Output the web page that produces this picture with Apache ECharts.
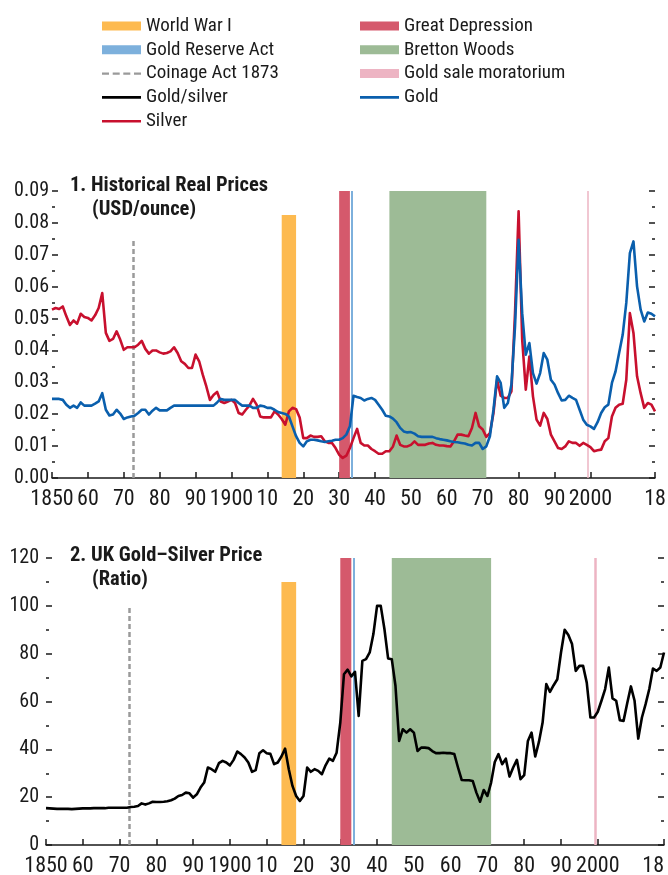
<!DOCTYPE html>
<html>
<head>
<meta charset="utf-8">
<script src="https://cdn.jsdelivr.net/npm/echarts@6/dist/echarts.min.js"></script>
<style>
  html, body { margin: 0; padding: 0; background: #fff; }
  #chart { width: 668px; height: 875px; }
</style>
</head>
<body>
<div id="chart"></div>
<script>
// Annual series, 1850-2018
const startYear = 1850;
const endYear = 2018;
const years = Array.from({ length: endYear - startYear + 1 }, (_, i) => startYear + i);

// Real silver price, USD/ounce
const silver = [
  0.0528, 0.0533, 0.0530, 0.0538, 0.0507, 0.0480, 0.0494, 0.0484, 0.0515, 0.0505,
  0.0502, 0.0494, 0.0510, 0.0533, 0.0580, 0.0455, 0.0430, 0.0436, 0.0460, 0.0434,
  0.0402, 0.0410, 0.0410, 0.0410, 0.0418, 0.0430, 0.0405, 0.0390, 0.0400, 0.0400,
  0.0394, 0.0390, 0.0392, 0.0397, 0.0410, 0.0392, 0.0366, 0.0358, 0.0345, 0.0345,
  0.0387, 0.0366, 0.0324, 0.0287, 0.0245, 0.0260, 0.0270, 0.0240, 0.0235, 0.0240,
  0.0245, 0.0235, 0.0204, 0.0199, 0.0214, 0.0227, 0.0248, 0.0230, 0.0193, 0.0190,
  0.0190, 0.0190, 0.0209, 0.0199, 0.0185, 0.0167, 0.0209, 0.0220, 0.0216, 0.0190,
  0.0125, 0.0125, 0.0133, 0.0129, 0.0129, 0.0131, 0.0115, 0.0110, 0.0110, 0.0094,
  0.0073, 0.0063, 0.0070, 0.0094, 0.0125, 0.0154, 0.0110, 0.0102, 0.0102, 0.0091,
  0.0084, 0.0076, 0.0076, 0.0084, 0.0084, 0.0099, 0.0133, 0.0104, 0.0099, 0.0099,
  0.0104, 0.0115, 0.0104, 0.0104, 0.0104, 0.0108, 0.0110, 0.0104, 0.0102, 0.0102,
  0.0100, 0.0099, 0.0115, 0.0136, 0.0136, 0.0133, 0.0131, 0.0157, 0.0204, 0.0162,
  0.0152, 0.0129, 0.0141, 0.0204, 0.0308, 0.0258, 0.0251, 0.0251, 0.0272, 0.0517,
  0.0836, 0.0434, 0.0277, 0.0381, 0.0256, 0.0183, 0.0164, 0.0204, 0.0185, 0.0136,
  0.0115, 0.0094, 0.0091, 0.0099, 0.0115, 0.0110, 0.0110, 0.0101, 0.0110, 0.0104,
  0.0097, 0.0084, 0.0087, 0.0089, 0.0115, 0.0125, 0.0193, 0.0220, 0.0230, 0.0233,
  0.0308, 0.0517, 0.0455, 0.0319, 0.0266, 0.0220, 0.0235, 0.0230, 0.0209
];

// Real gold price, USD/ounce (scaled)
const gold = [
  0.0248, 0.0248, 0.0248, 0.0245, 0.0230, 0.0220, 0.0227, 0.0220, 0.0237, 0.0227,
  0.0227, 0.0227, 0.0233, 0.0240, 0.0266, 0.0214, 0.0196, 0.0199, 0.0214, 0.0202,
  0.0185, 0.0190, 0.0193, 0.0195, 0.0204, 0.0214, 0.0214, 0.0199, 0.0211, 0.0220,
  0.0212, 0.0212, 0.0212, 0.0220, 0.0227, 0.0227, 0.0227, 0.0227, 0.0227, 0.0227,
  0.0227, 0.0227, 0.0227, 0.0227, 0.0227, 0.0227, 0.0237, 0.0248, 0.0245, 0.0245,
  0.0245, 0.0245, 0.0235, 0.0227, 0.0227, 0.0227, 0.0220, 0.0220, 0.0227, 0.0225,
  0.0220, 0.0220, 0.0214, 0.0207, 0.0204, 0.0201, 0.0193, 0.0162, 0.0131, 0.0110,
  0.0099, 0.0115, 0.0120, 0.0120, 0.0118, 0.0115, 0.0113, 0.0115, 0.0117, 0.0120,
  0.0120, 0.0125, 0.0136, 0.0162, 0.0258, 0.0254, 0.0251, 0.0243, 0.0248, 0.0251,
  0.0245, 0.0230, 0.0214, 0.0195, 0.0193, 0.0186, 0.0175, 0.0157, 0.0146, 0.0143,
  0.0144, 0.0139, 0.0131, 0.0129, 0.0129, 0.0129, 0.0129, 0.0125, 0.0122, 0.0120,
  0.0118, 0.0115, 0.0113, 0.0112, 0.0110, 0.0108, 0.0104, 0.0102, 0.0110, 0.0110,
  0.0091, 0.0099, 0.0131, 0.0214, 0.0319, 0.0298, 0.0220, 0.0235, 0.0293, 0.0475,
  0.0747, 0.0517, 0.0387, 0.0423, 0.0329, 0.0296, 0.0329, 0.0392, 0.0371, 0.0308,
  0.0293, 0.0266, 0.0243, 0.0245, 0.0258, 0.0251, 0.0245, 0.0214, 0.0183, 0.0167,
  0.0162, 0.0154, 0.0175, 0.0204, 0.0222, 0.0230, 0.0298, 0.0334, 0.0392, 0.0449,
  0.0549, 0.0705, 0.0742, 0.0601, 0.0528, 0.0491, 0.0519, 0.0515, 0.0507
];

// UK gold/silver price ratio
const goldSilverRatio = [
  15.4, 15.3, 15.2, 15.1, 15.1, 15.1, 15.1, 15.0, 15.1, 15.2,
  15.3, 15.3, 15.3, 15.4, 15.4, 15.4, 15.4, 15.6, 15.6, 15.6,
  15.6, 15.6, 15.6, 15.9, 16.0, 16.3, 17.4, 16.9, 17.4, 18.1,
  18.0, 18.0, 18.1, 18.3, 18.7, 19.4, 20.5, 20.9, 21.9, 21.6,
  19.8, 21.2, 24.0, 26.1, 32.4, 31.7, 30.6, 34.2, 35.2, 34.5,
  33.3, 35.6, 39.1, 38.0, 36.6, 34.5, 30.6, 31.3, 38.4, 39.6,
  38.4, 38.1, 33.8, 34.5, 37.0, 40.3, 31.7, 24.7, 20.5, 18.4,
  20.5, 32.4, 30.6, 31.7, 31.0, 29.6, 33.3, 36.1, 35.2, 38.6,
  51.2, 71.4, 73.3, 70.5, 72.4, 54.0, 77.0, 77.7, 80.5, 88.2,
  100.0, 100.0, 90.3, 78.0, 77.7, 66.6, 43.5, 48.4, 47.0, 48.4,
  47.0, 39.3, 40.7, 40.7, 40.5, 39.3, 38.4, 38.4, 38.6, 38.4,
  38.4, 38.0, 32.4, 27.2, 27.1, 27.1, 26.8, 21.9, 18.1, 23.0,
  20.5, 26.1, 34.7, 38.0, 33.8, 36.1, 28.6, 32.4, 35.6, 27.5,
  29.2, 43.5, 47.0, 37.0, 43.1, 51.2, 67.3, 64.0, 66.8, 69.3,
  80.5, 90.0, 87.8, 84.0, 72.8, 74.9, 74.9, 67.9, 53.3, 53.3,
  55.7, 60.3, 65.2, 74.2, 61.3, 60.3, 52.2, 51.9, 59.3, 66.3,
  60.3, 44.5, 53.3, 58.9, 65.2, 73.8, 72.8, 74.2, 80.5
];

// Historical episodes (years)
const worldWarI = [1914, 1918];
const greatDepression = [1930, 1933];
const goldReserveAct = 1933.6;
const brettonWoods = [1944, 1971];
const coinageAct = 1872.6;
const goldSaleMoratorium = 1999.3;

// Heights of the capped markers in each panel
const wwiTop = [0.0825, 110];
const coinageTop = [0.075, 100];

// Axis ticks
const xTickValues = [1850, 1860, 1870, 1880, 1890, 1900, 1910, 1920, 1930, 1940, 1950, 1960, 1970, 1980, 1990, 2000, 2018];
const xTickLabels = ['1850', '60', '70', '80', '90', '1900', '10', '20', '30', '40', '50', '60', '70', '80', '90', '2000', '18'];
const priceAxis = { min: 0, max: 0.09, step: 0.01 };
const ratioAxis = { min: 0, max: 120, step: 20 };

const FONT = "'Liberation Sans Narrow', 'Arial Narrow', 'Roboto Condensed', 'DejaVu Sans Condensed', sans-serif";
const INK = '#1a1a1a';
const COLORS = {
  wwi: '#FDBA50',
  depression: '#D5596C',
  reserve: '#7DB0DC',
  bretton: '#9DBB96',
  coinage: '#9a9a9a',
  moratorium: '#EDB4C3',
  ratio: '#000000',
  gold: '#0A5FAD',
  silver: '#C8102E'
};

// Legend glyphs: a solid stroke and a dashed stroke, 39 units wide
const SOLID_ICON = 'path://M0,0H39V2.6H0Z';
const DASHED_ICON = 'path://M0,0H7V2.4H0Z M10.7,0H17.7V2.4H10.7Z M21.3,0H28.3V2.4H21.3Z M32,0H39V2.4H32Z';

const pair = (arr) => arr.map((v, i) => [years[i], v]);

function xAxisFor(gridIndex, alignLast) {
  return {
    type: 'value', gridIndex, min: startYear, max: endYear,
    splitLine: { show: false },
    axisLine: { show: true, lineStyle: { color: INK, width: 1.5 } },
    axisTick: { show: true, inside: true, length: 6, customValues: xTickValues, lineStyle: { color: INK, width: 1.5 } },
    axisLabel: {
      customValues: xTickValues, margin: 10, fontSize: 22, color: INK, fontFamily: FONT,
      alignMaxLabel: alignLast,
      formatter: (v) => xTickLabels[xTickValues.indexOf(v)] ?? ''
    }
  };
}

function yAxisFor(gridIndex, spec, position, labelMargin, decimals) {
  const showLabel = position === 'left';
  return {
    type: 'value', gridIndex, position, min: spec.min, max: spec.max, interval: spec.step,
    splitLine: { show: false },
    axisLine: { show: false },
    axisTick: { show: true, inside: true, length: 6, lineStyle: { color: INK, width: 1.5 } },
    minorTick: { show: true, splitNumber: 2, length: 3, lineStyle: { color: INK, width: 1.5 } },
    minorSplitLine: { show: false },
    axisLabel: {
      show: showLabel, margin: labelMargin, fontSize: 20, color: INK, fontFamily: FONT,
      formatter: (v) => v.toFixed(decimals)
    }
  };
}

// Shaded episodes and vertical markers, repeated for each panel
function episodeSeries(panel) {
  const xi = panel, yi = panel * 2;
  const base = { type: 'line', data: [], xAxisIndex: xi, yAxisIndex: yi, silent: true, z: 1, symbol: 'none' };
  const area = (name, color, range, top) => Object.assign({}, base, {
    name, color, itemStyle: { color }, lineStyle: { color },
    markArea: {
      silent: true, itemStyle: { color, opacity: 1 },
      data: [[
        top === undefined ? { xAxis: range[0] } : { xAxis: range[0], yAxis: 0 },
        top === undefined ? { xAxis: range[1] } : { xAxis: range[1], yAxis: top }
      ]]
    }
  });
  const vline = (name, color, x, width) => Object.assign({}, base, {
    name, color, itemStyle: { color }, lineStyle: { color },
    markLine: {
      silent: true, symbol: ['none', 'none'], label: { show: false },
      lineStyle: { color, width, type: 'solid' },
      data: [{ xAxis: x }]
    }
  });
  const yMin = panel === 0 ? priceAxis.min : ratioAxis.min;
  return [
    area('World War I', COLORS.wwi, worldWarI, wwiTop[panel]),
    area('Great Depression', COLORS.depression, greatDepression),
    vline('Gold Reserve Act', COLORS.reserve, goldReserveAct, 2),
    area('Bretton Woods', COLORS.bretton, brettonWoods),
    vline('Gold sale moratorium', COLORS.moratorium, goldSaleMoratorium, panel === 0 ? 1.5 : 2.5),
    Object.assign({}, base, {
      name: 'Coinage Act 1873', color: COLORS.coinage,
      lineStyle: { color: COLORS.coinage, width: 2.5, type: [5, 3] },
      markLine: {
        silent: true, symbol: ['none', 'none'], label: { show: false },
        lineStyle: { color: COLORS.coinage, width: 2.5, type: [5, 3] },
        data: [[{ coord: [coinageAct, yMin] }, { coord: [coinageAct, coinageTop[panel]] }]]
      }
    })
  ];
}

function dataLine(name, color, values, xi, yi) {
  return {
    name, type: 'line', xAxisIndex: xi, yAxisIndex: yi, data: pair(values),
    showSymbol: false, symbol: 'none', color, z: 5,
    lineStyle: { color, width: 2.6, join: 'round' }
  };
}

const legendItem = (name, color, icon) => ({ name, icon, itemStyle: { color, borderWidth: 0, opacity: 1 } });

const legendBase = {
  orient: 'vertical', padding: 0, itemWidth: 39, itemHeight: 9, itemGap: 3.8,
  selectedMode: false, symbolKeepAspect: true,
  textStyle: { fontSize: 19, color: INK, fontFamily: FONT, lineHeight: 20 }
};

const titleStyle = { fontSize: 20.5, fontWeight: 'bold', color: INK, fontFamily: FONT };
const titles = [
  { text: '1. Historical Real Prices', left: 70, top: 175 },
  { text: '(USD/ounce)', left: 92, top: 199 },
  { text: '2. UK Gold\u2013Silver Price', left: 70, top: 545 },
  { text: '(Ratio)', left: 92, top: 569 }
];

const option = {
  animation: false,
  backgroundColor: '#ffffff',
  textStyle: { fontFamily: FONT },
  title: titles.map(t => Object.assign({ padding: 0, textStyle: titleStyle }, t)),
  legend: [
    Object.assign({}, legendBase, {
      left: 102, top: 16,
      data: [
        legendItem('World War I', COLORS.wwi, 'rect'),
        legendItem('Gold Reserve Act', COLORS.reserve, 'rect'),
        legendItem('Coinage Act 1873', COLORS.coinage, DASHED_ICON),
        legendItem('Gold/silver', COLORS.ratio, SOLID_ICON),
        legendItem('Silver', COLORS.silver, SOLID_ICON)
      ]
    }),
    Object.assign({}, legendBase, {
      left: 360, top: 16,
      data: [
        legendItem('Great Depression', COLORS.depression, 'rect'),
        legendItem('Bretton Woods', COLORS.bretton, 'rect'),
        legendItem('Gold sale moratorium', COLORS.moratorium, 'rect'),
        legendItem('Gold', COLORS.gold, SOLID_ICON)
      ]
    })
  ],
  grid: [
    { left: 52, top: 191, width: 603, height: 287, containLabel: false, outerBoundsMode: 'none' },
    { left: 46, top: 558, width: 618, height: 287, containLabel: false, outerBoundsMode: 'none' }
  ],
  xAxis: [xAxisFor(0, null), xAxisFor(1, 'right')],
  yAxis: [
    yAxisFor(0, priceAxis, 'left', 3, 2),
    yAxisFor(0, priceAxis, 'right', 3, 2),
    yAxisFor(1, ratioAxis, 'left', 7, 0),
    yAxisFor(1, ratioAxis, 'right', 7, 0)
  ],
  series: [
    ...episodeSeries(0),
    ...episodeSeries(1),
    dataLine('Silver', COLORS.silver, silver, 0, 0),
    dataLine('Gold', COLORS.gold, gold, 0, 0),
    dataLine('Gold/silver', COLORS.ratio, goldSilverRatio, 1, 2)
  ]
};

const chart = echarts.init(document.getElementById('chart'), null, { renderer: 'canvas' });
chart.setOption(option);
</script>
</body>
</html>
